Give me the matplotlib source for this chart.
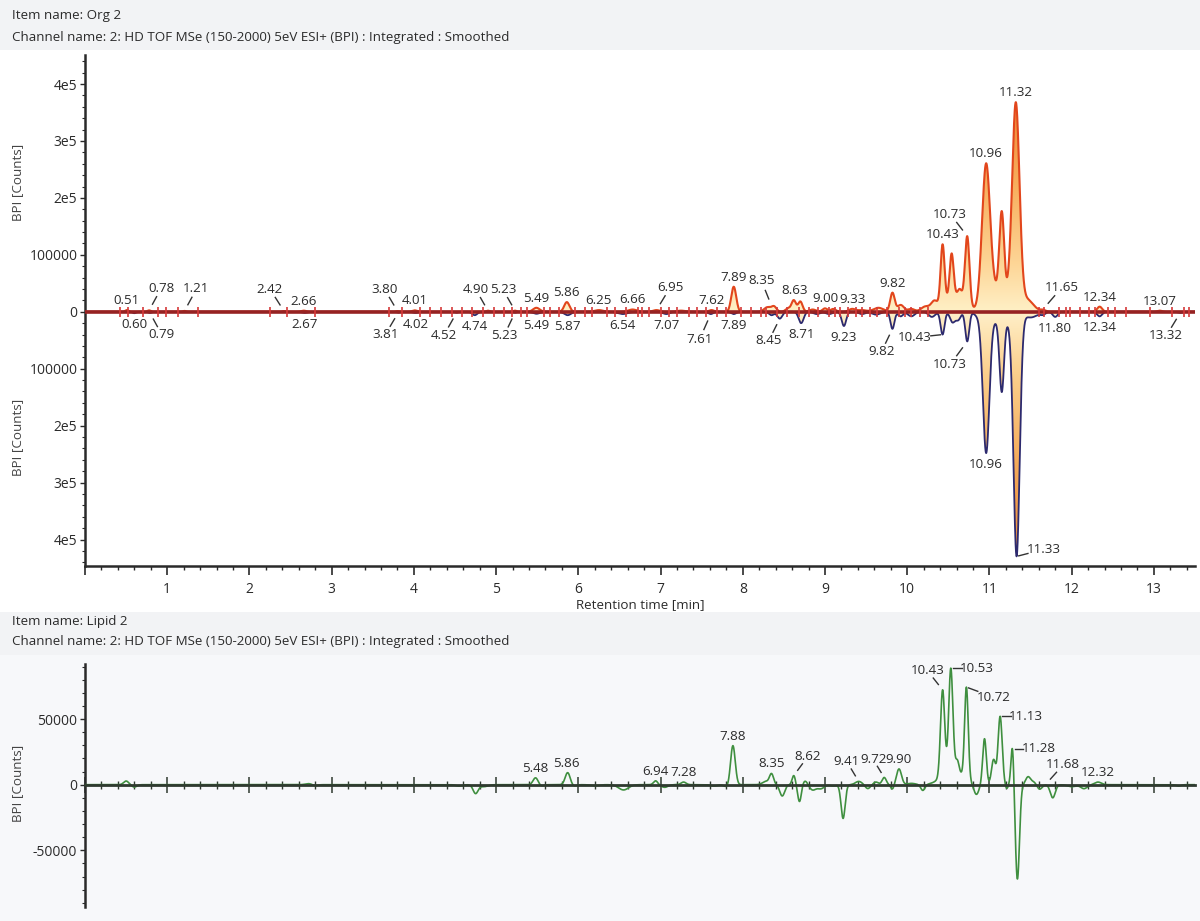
import numpy as np
import matplotlib
matplotlib.use("Agg")
import matplotlib.pyplot as plt
from matplotlib.colors import LinearSegmentedColormap
from matplotlib.ticker import MultipleLocator, FuncFormatter, FixedLocator
import matplotlib.transforms as mtransforms
from matplotlib.patches import Rectangle

plt.rcParams['font.family'] = ['Open Sans', 'DejaVu Sans']
plt.rcParams['axes.unicode_minus'] = False

# ---------------------------------------------------------------- data
x_range = (0.0, 13.5)

# Org 2 (upper trace), peaks: rt [min], height [counts], sigma [min]
org_rt = [0.51, 0.78, 1.21, 2.42, 2.66, 3.80, 4.01, 4.90, 5.23, 5.49, 5.86, 6.25, 6.66, 6.95, 7.25,
          7.62, 7.89, 8.30, 8.38, 8.55, 8.62, 8.70, 8.85, 9.00, 9.10, 9.33, 9.45, 9.65, 9.82, 9.92,
          10.05, 10.22, 10.33, 10.58, 10.43, 10.54, 10.64, 10.73, 10.96, 11.07, 11.15, 11.23, 11.32,
          11.45, 11.65, 12.34, 13.07]
org_h = [3000, 2500, 1500, 1200, 2000, 1200, 2500, 2000, 2000, 7000, 17000, 3000, 4000, 3000, 2000,
         3000, 44000, 8000, 9000, 6000, 20000, 18000, 4000, 6000, 5000, 5000, 3000, 7000, 33000, 12000,
         5000, 9000, 16000, 28000, 105000, 76000, 15000, 120000, 260000, 28000, 172000, 20000, 362000,
         22000, 3000, 9000, 2000]
org_w = [0.02, 0.02, 0.02, 0.02, 0.03, 0.02, 0.03, 0.02, 0.02, 0.04, 0.032, 0.05, 0.05, 0.04, 0.05,
         0.03, 0.03, 0.04, 0.03, 0.03, 0.027, 0.027, 0.04, 0.03, 0.03, 0.04, 0.05, 0.06, 0.027, 0.04,
         0.04, 0.05, 0.04, 0.12, 0.024, 0.024, 0.025, 0.027, 0.05, 0.04, 0.031, 0.03, 0.045,
         0.08, 0.03, 0.03, 0.03]

# mirrored trace (plotted downwards), magnitudes
mir_rt = [0.60, 0.79, 2.67, 3.81, 4.02, 4.52, 4.74, 5.23, 5.49, 5.87, 6.54, 7.07, 7.61, 7.89, 8.35,
          8.45, 8.71, 8.90, 9.05, 9.23, 9.45, 9.62, 9.82, 9.92, 10.05, 10.30, 10.43, 10.55, 10.62,
          10.73, 10.85, 10.96, 11.08, 11.15, 11.23, 11.33, 11.50, 11.65, 11.80, 12.34, 13.32]
mir_h = [2500, 2000, 2000, 1500, 2000, 1500, 6000, 1500, 3500, 6000, 4000, 4000, 4000, 4000, 6000,
         12000, 20000, 4000, 4000, 25000, 4000, 5000, 30000, 8000, 8000, 9000, 40000, 18000, 14000,
         52000, 6000, 248000, 14000, 136000, 15000, 428000, 10000, 4000, 9000, 8000, 2000]
mir_w = [0.02, 0.02, 0.03, 0.02, 0.03, 0.02, 0.03, 0.02, 0.04, 0.04, 0.06, 0.04, 0.03, 0.03, 0.03,
         0.03, 0.03, 0.04, 0.04, 0.027, 0.04, 0.05, 0.024, 0.03, 0.04, 0.04, 0.024, 0.03, 0.03,
         0.024, 0.04, 0.04, 0.04, 0.028, 0.04, 0.038, 0.08, 0.03, 0.03, 0.03, 0.03]

# integration markers on the upper baseline
marker_rt = [0.43, 0.52, 0.70, 0.89, 0.98, 1.13, 1.37, 2.25, 2.46, 2.80, 3.70, 3.86, 4.08, 4.20,
             4.33, 4.46, 4.59, 4.71, 4.84, 4.97, 5.10, 5.19, 5.30, 5.38, 5.58, 5.66, 5.77, 5.96,
             6.08, 6.17, 6.35, 6.45, 6.58, 6.72, 6.77, 6.86, 7.00, 7.10, 7.20, 7.34, 7.44, 7.55,
             7.69, 7.80, 7.98, 8.10, 8.22, 8.28, 8.42, 8.54, 8.68, 8.80, 8.92, 9.05, 9.12, 9.18,
             9.28, 9.38, 9.45, 9.55, 9.63, 9.75, 9.90, 9.97, 10.05, 10.15, 10.25, 11.60, 11.66,
             11.85, 11.93, 11.98, 12.10, 12.21, 12.28, 12.44, 12.53, 12.66, 12.95, 13.22, 13.37, 13.43]

# Lipid 2 (lower panel), signed heights
lip_rt = [0.50, 0.60, 2.72, 2.80, 4.55, 4.75, 4.85, 5.48, 5.55, 5.87, 5.95, 6.20, 6.55, 6.94, 7.05,
          7.28, 7.65, 7.80, 7.88, 8.28, 8.35, 8.48, 8.62, 8.69, 8.76, 8.85, 8.95, 9.10, 9.22, 9.41,
          9.52, 9.62, 9.72, 9.82, 9.90, 10.05, 10.19, 10.55, 10.43, 10.53, 10.61, 10.72, 10.84,
          10.94, 11.05, 11.13, 11.21, 11.28, 11.34, 11.47, 11.54, 11.61, 11.77, 12.00, 12.15,
          12.32, 13.30]
lip_h = [2800, -1800, 800, -800, -1000, -6600, -1500, 5300, -1000, 9200, -1000, -800, -4000, 3000,
         -2000, 2000, -1000, -1500, 29800, 2500, 8000, -8600, 7000, -13000, 3000, -4000, -3000,
         -1000, -25700, 2500, -3000, 2000, 5500, -3500, 12000, 1000, -4500, 12000, 65000, 77000,
         8000, 70000, -8000, 35000, 19000, 52000, -3000, 31000, -72000, 6000, 2000, -3500,
         -10000, -1500, -3000, 2000, -1000]
lip_w = [0.03, 0.03, 0.04, 0.03, 0.04, 0.03, 0.05, 0.03, 0.03, 0.03, 0.03, 0.05, 0.06, 0.025, 0.04,
         0.03, 0.04, 0.03, 0.028, 0.04, 0.025, 0.03, 0.02, 0.022, 0.03, 0.04, 0.04, 0.04, 0.025,
         0.04, 0.03, 0.03, 0.025, 0.02, 0.03, 0.05, 0.025, 0.12, 0.025, 0.025, 0.02, 0.022, 0.03,
         0.022, 0.025, 0.025, 0.015, 0.018, 0.025, 0.03, 0.03, 0.03, 0.03, 0.05, 0.04, 0.04, 0.03]

# peak labels
org_labels = ['0.51', '0.78', '1.21', '2.42', '2.66', '3.80', '4.01', '4.90', '5.23', '5.49', '5.86',
              '6.25', '6.66', '6.95', '7.62', '7.89', '8.35', '8.63', '9.00', '9.33', '9.82',
              '10.43', '10.73', '10.96', '11.32', '11.65', '12.34', '13.07']
mir_labels = ['0.60', '0.79', '2.67', '3.81', '4.02', '4.52', '4.74', '5.23', '5.49', '5.87', '6.54',
              '7.07', '7.61', '7.89', '8.45', '8.71', '9.23', '9.82', '10.43', '10.73', '10.96',
              '11.33', '11.80', '12.34', '13.32']
lip_labels = ['5.48', '5.86', '6.94', '7.28', '7.88', '8.35', '8.62', '9.41', '9.72', '9.90',
              '10.43', '10.53', '10.72', '11.13', '11.28', '11.68', '12.32']

header_top = ['Item name: Org 2',
              'Channel name: 2: HD TOF MSe (150-2000) 5eV ESI+ (BPI) : Integrated : Smoothed']
header_bottom = ['Item name: Lipid 2',
                 'Channel name: 2: HD TOF MSe (150-2000) 5eV ESI+ (BPI) : Integrated : Smoothed']

# ---------------------------------------------------------------- layout (pixels)
W, H = 1200, 921
DPI = 100
# label offsets (dx, dy) in px, dy positive = up; otherwise directly above/below
org_off = {'0.78': (12, 22), '1.21': (12, 22), '2.42': (-14, 22), '3.80': (-13, 22),
           '4.90': (-12, 21), '5.23': (-12, 21), '6.95': (14, 23), '8.35': (-10, 25),
           '10.73': (-17, 22), '11.65': (19, 22)}
mir_off = {'0.79': (12, -22), '3.81': (-13, -22), '4.52': (-13, -23), '5.23': (-11, -23),
           '7.61': (-11, -25), '8.45': (-11, -22), '9.82': (-11, -23), '10.43': (-28, -3),
           '10.73': (-17, -23), '11.33': (27, 7), '13.32': (-14, -23)}
lip_off = {'8.62': (14, 19), '9.41': (-12, 20), '9.72': (-11, 18), '10.43': (-15, 19),
           '10.53': (26, 0), '10.72': (27, -10), '11.13': (26, 0), '11.28': (26, 0),
           '11.68': (18, 20)}

TXT = '#2b2b2b'
FS = 9.6
TFS = 10


def build(rt, h, w, t):
    y = np.zeros_like(t)
    for c, a, s in zip(rt, h, w):
        y += a * np.exp(-0.5 * ((t - c) / s) ** 2)
    return y


t = np.linspace(x_range[0], x_range[1], 8000)
y_org = build(org_rt, org_h, org_w, t)
y_mir = -build(mir_rt, mir_h, mir_w, t)
y_lip = build(lip_rt, lip_h, lip_w, t)

fig = plt.figure(figsize=(W / DPI, H / DPI), dpi=DPI)
fig.patch.set_facecolor('#f2f3f5')
fig.patches.append(Rectangle((0, 1 - 612 / H), 1, (612 - 50) / H, transform=fig.transFigure,
                             facecolor='white', edgecolor='none', zorder=-5))
fig.patches.append(Rectangle((0, 0), 1, 1 - 655 / H, transform=fig.transFigure,
                             facecolor='#f7f8fa', edgecolor='none', zorder=-5))


def ftext(xpx, ypx, s, **kw):
    fig.text(xpx / W, 1 - ypx / H, s, fontsize=kw.pop('fontsize', FS), color=kw.pop('color', TXT), **kw)


ftext(12, 15, header_top[0], va='center')
ftext(12, 37, header_top[1], va='center')
ftext(12, 622, header_bottom[0], va='center')
ftext(12, 641, header_bottom[1], va='center')

# ---------------------------------------------------------------- upper panel
ax1 = fig.add_axes([85 / W, 1 - 565.7 / H, 1110 / W, (565.7 - 55) / H])
ax1.set_facecolor('none')


def grad_fill(ax, x, y, cmap, y0, y1, flip, z):
    poly = ax.fill_between(x, 0, y, facecolor='none', edgecolor='none')
    g = np.linspace(0, 1, 256).reshape(-1, 1)
    if flip:
        g = g[::-1]
    im = ax.imshow(g, aspect='auto', cmap=cmap, extent=[x[0], x[-1], y0, y1], origin='lower',
                   zorder=z, interpolation='bilinear')
    im.set_clip_path(poly.get_paths()[0], transform=ax.transData)


pos_cmap = LinearSegmentedColormap.from_list(
    'pos', [(0, '#fff0c6'), (0.25, '#fdd494'), (0.6, '#f8b060'), (1, '#f08a36')])
neg_cmap = LinearSegmentedColormap.from_list(
    'neg', [(0, '#ffefc8'), (0.25, '#fbcf8c'), (0.6, '#f5ac5c'), (1, '#ec8c3c')])
grad_fill(ax1, t, y_mir, neg_cmap, -4.3e5, 0, True, 1)
grad_fill(ax1, t, y_org, pos_cmap, 0, 3.6e5, False, 2)
ax1.plot(t, y_mir, color='#2d2a6e', lw=1.3, zorder=3)
ax1.plot(t, y_org, color='#e2461c', lw=1.5, zorder=4)
ax1.axhline(0, color='#962222', lw=2.6, zorder=5)
ax1.vlines(marker_rt, -9000, 9000, color='#d63a3a', lw=1.2, zorder=6)

ax1.set_xlim(*x_range)
ax1.set_ylim(-4.46e5, 4.51e5)
for s in ['top', 'right']:
    ax1.spines[s].set_visible(False)
for s in ['left', 'bottom']:
    ax1.spines[s].set_linewidth(1.8)
    ax1.spines[s].set_color('#2a2a2a')
ax1.xaxis.set_major_locator(MultipleLocator(1))
ax1.xaxis.set_minor_locator(MultipleLocator(0.2))
ax1.xaxis.set_major_formatter(FuncFormatter(lambda v, p: '' if v < 0.5 else f'{v:.0f}'))
ax1.yaxis.set_major_locator(FixedLocator([-4e5, -3e5, -2e5, -1e5, 0, 1e5, 2e5, 3e5, 4e5]))
ax1.yaxis.set_minor_locator(MultipleLocator(2e4))


def yfmt(v, p):
    a = abs(v)
    if a < 1:
        return '0'
    if abs(a - 1e5) < 1:
        return '100000'
    return f'{a / 1e5:.0f}e5'


ax1.yaxis.set_major_formatter(FuncFormatter(yfmt))
ax1.tick_params(axis='x', which='major', length=6.5, width=1.2, color='#2a2a2a', labelsize=TFS,
                labelcolor=TXT, pad=5)
ax1.tick_params(axis='x', which='minor', length=3, width=1.0, color='#2a2a2a')
ax1.tick_params(axis='y', which='major', length=3.5, width=1.0, color='#2a2a2a', labelsize=TFS,
                labelcolor=TXT, pad=2)
ax1.tick_params(axis='y', which='minor', length=2, width=0.8, color='#2a2a2a')
ftext(640, 605, 'Retention time [min]', ha='center', va='center')
ftext(18, 182, 'BPI [Counts]', ha='center', va='center', rotation=90, color='#444444')
ftext(18, 437, 'BPI [Counts]', ha='center', va='center', rotation=90, color='#444444')


def peak_y(x, y, rt, sign):
    m = (x > rt - 0.02) & (x < rt + 0.02)
    return (y[m].max() if sign > 0 else y[m].min())


def annotate(ax, x, y, labels, offs, sign, skip_gap=6):
    for lab in labels:
        rt = float(lab)
        yy = peak_y(x, y, rt, sign)
        yy = max(yy, 0) if sign > 0 else min(yy, 0)
        if lab in offs:
            dx, dy = offs[lab]
            tr = mtransforms.offset_copy(ax.transData, fig=fig, x=dx, y=dy, units='dots')
            ax.text(rt, yy, lab, transform=tr, ha='center', va='center', fontsize=FS, color=TXT,
                    zorder=8)
            horiz = abs(dy) < abs(dx) * 0.5
            f0, f1 = (0.08, 0.42) if horiz else (0.28, 0.62)
            p0 = ax.transData.transform((rt, yy))
            a = p0 + np.array([dx * f0, dy * f0])
            b = p0 + np.array([dx * f1, dy * f1])
            inv = ax.transData.inverted()
            a, b = inv.transform(a), inv.transform(b)
            ax.plot([a[0], b[0]], [a[1], b[1]], color='#333333', lw=1.0, zorder=8)
        else:
            if sign > 0:
                tr = mtransforms.offset_copy(ax.transData, fig=fig, x=0, y=skip_gap, units='dots')
                ax.text(rt, yy, lab, transform=tr, ha='center', va='baseline', fontsize=FS,
                        color=TXT, zorder=8)
            else:
                tr = mtransforms.offset_copy(ax.transData, fig=fig, x=0, y=-5, units='dots')
                ax.text(rt, yy, lab, transform=tr, ha='center', va='top', fontsize=FS,
                        color=TXT, zorder=8)


annotate(ax1, t, y_org, org_labels, org_off, +1)
annotate(ax1, t, y_mir, mir_labels, mir_off, -1)

# ---------------------------------------------------------------- lower panel
ax2 = fig.add_axes([85 / W, 1 - 906.7 / H, 1110 / W, (906.7 - 664) / H])
ax2.set_facecolor('none')
ax2.plot(t, y_lip, color='#3f8f3f', lw=1.2, zorder=3)
ax2.set_xlim(*x_range)
ax2.set_ylim(-9.3e4, 9.2e4)
for s in ['top', 'right']:
    ax2.spines[s].set_visible(False)
ax2.spines['bottom'].set_position(('data', 0))
ax2.spines['bottom'].set_linewidth(2.0)
ax2.spines['bottom'].set_color('#2f3a2f')
ax2.spines['bottom'].set_zorder(4)
ax2.spines['left'].set_linewidth(1.8)
ax2.spines['left'].set_color('#2a2a2a')
ax2.xaxis.set_major_locator(MultipleLocator(1))
ax2.xaxis.set_minor_locator(MultipleLocator(0.2))
ax2.xaxis.set_major_formatter(FuncFormatter(lambda v, p: ''))
ax2.tick_params(axis='x', which='major', direction='inout', length=11, width=1.1, color='#2f3a2f')
ax2.tick_params(axis='x', which='minor', direction='inout', length=6, width=1.0, color='#2f3a2f')
ax2.yaxis.set_major_locator(FixedLocator([-50000, 0, 50000]))
ax2.yaxis.set_minor_locator(MultipleLocator(10000))
ax2.yaxis.set_major_formatter(FuncFormatter(lambda v, p: f'{v:.0f}'))
ax2.tick_params(axis='y', which='major', length=3.5, width=1.0, color='#2a2a2a', labelsize=TFS,
                labelcolor=TXT, pad=2)
ax2.tick_params(axis='y', which='minor', length=2, width=0.8, color='#2a2a2a')
ftext(18, 783, 'BPI [Counts]', ha='center', va='center', rotation=90, color='#444444')
annotate(ax2, t, y_lip, lip_labels, lip_off, +1)

fig.savefig('out.png', dpi=DPI, facecolor=fig.get_facecolor())
